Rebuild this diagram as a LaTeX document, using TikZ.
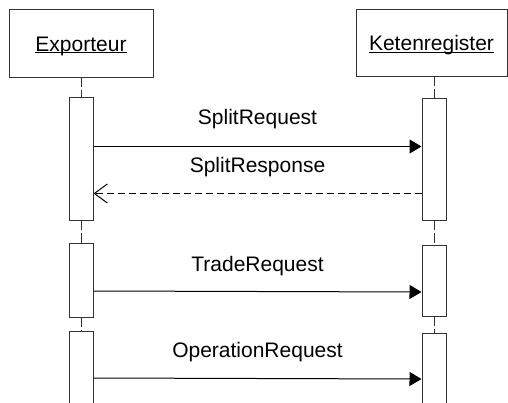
\documentclass[tikz,border=0pt]{standalone}
\usepackage{fontspec}
\setmainfont{Liberation Sans}
\usetikzlibrary{arrows.meta}
\newcommand\myul[1]{\setbox0\hbox{#1}\rlap{\rule[-2pt]{\wd0}{1pt}}\box0}
\begin{document}
\begin{tikzpicture}[x=1pt,y=-1pt,
  every node/.style={font=\fontsize{21}{25}\selectfont, inner sep=0pt},
  headbox/.style={draw=black!80, line width=1pt, fill=white, text height=15pt, text depth=0pt},
  actbox/.style={draw=black!80, line width=1pt, fill=white, minimum width=24pt},
  life/.style={draw=black!80, line width=1pt, dash pattern=on 9pt off 3pt},
  req/.style={draw=black, line width=1pt, -{Triangle[length=12pt,width=14pt]}},
  resp/.style={draw=black, line width=1pt, dash pattern=on 7pt off 4pt, -{Straight Barb[length=13pt,width=19pt,line width=1pt]}},
  msglabel/.style={anchor=base}]
\clip (0,0) rectangle (508,403);
\fill[white] (0,0) rectangle (508,403);
% heads
\node[headbox, minimum width=144pt, minimum height=68pt] (exp) at (81,44) {\myul{Exporteur}};
\node[headbox, minimum width=151pt, minimum height=67pt] (ket) at (431.5,43.5) {\myul{Ketenregister}};
% activation boxes
\node[actbox, minimum height=123pt] (a1) at (81,159.5) {};
\node[actbox, minimum height=74pt] (a2) at (81,280) {};
\node[actbox, minimum height=90pt] (a3) at (81,376) {};
\node[actbox, minimum height=122pt] (b1) at (434,160) {};
\node[actbox, minimum height=71pt] (b2) at (434,280.5) {};
\node[actbox, minimum height=88pt] (b3) at (434,377) {};
% lifelines
\draw[life] (exp.south) -- (a1.north);
\draw[life] (a1.south) -- (a2.north);
\draw[life] (a2.south) -- (a3.north);
\draw[life] (ket.south -| b1.north) -- (b1.north);
\draw[life] (b1.south) -- (b2.north);
\draw[life] (b2.south) -- (b3.north);
% messages
\draw[req] ([yshift=-49pt]a1.north east) -- ([yshift=-48pt]b1.north west)
  node[msglabel, pos=0.5, yshift=22pt] (m1) {SplitRequest};
\draw[resp] ([yshift=-95pt]b1.north west) -- ([yshift=-96pt]a1.north east)
  node[msglabel, pos=0.5, yshift=20.7pt] (m2) {SplitResponse};
\draw[req] ([yshift=-48.5pt]a2.north east) -- ([yshift=-47.5pt]b2.north west)
  node[msglabel, pos=0.5, yshift=20.5pt] (m3) {TradeRequest};
\draw[req] ([yshift=-47.5pt]a3.north east) -- ([yshift=-46.5pt]b3.north west)
  node[msglabel, pos=0.5, yshift=21pt] (m4) {OperationRequest};
\end{tikzpicture}
\end{document}
